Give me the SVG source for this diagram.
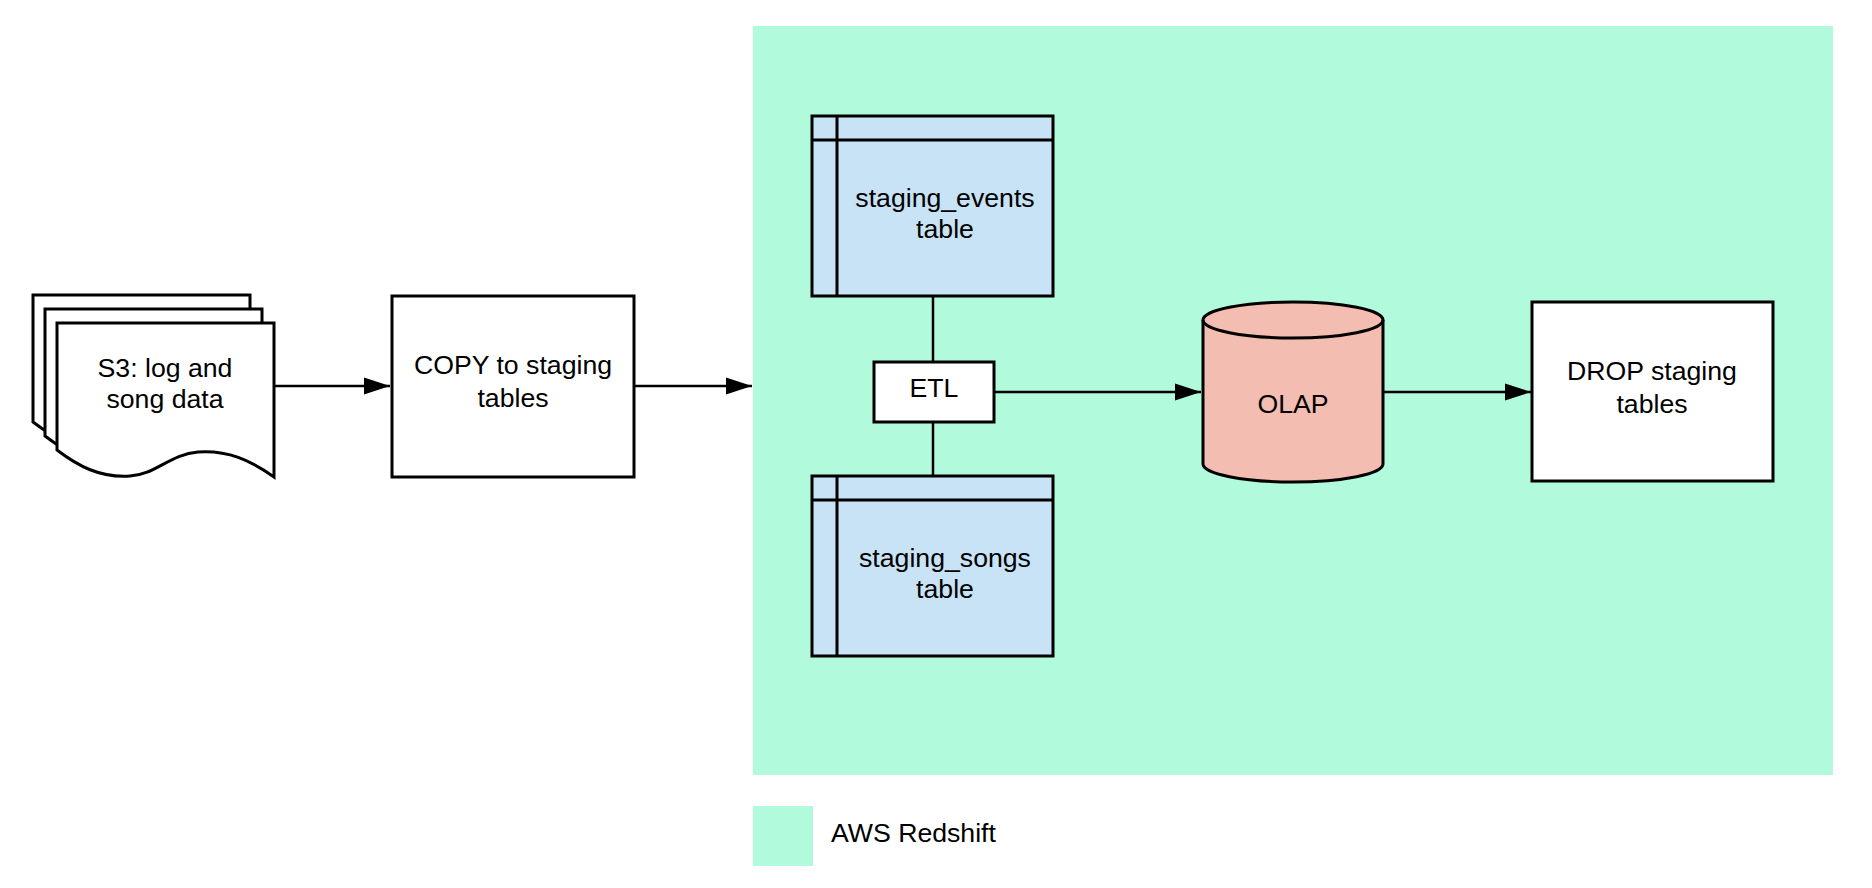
<svg xmlns="http://www.w3.org/2000/svg" width="1872" height="888" viewBox="0 0 1872 888">
<style>
.shape{stroke:#000;stroke-width:3;stroke-linejoin:miter}
.white{fill:#ffffff}
.tbl{fill:#c7e3f5}
.db{fill:#f4bdb1}
.lbl{font-family:"Liberation Sans",Arial,sans-serif;font-size:26.67px;fill:#000;text-anchor:middle}
.conn{stroke:#000;stroke-width:2.5;fill:none}
</style>
<defs>
<marker id="arrow" markerUnits="userSpaceOnUse" markerWidth="26" markerHeight="18" refX="26" refY="8.5" orient="auto" viewBox="0 0 26 17">
<path d="M0,0 L26,8.5 L0,17 Z" fill="#000"/>
</marker>
<path id="docshape" d="M57,323 H274 V477 C250,460 228,450 198,452 C170,454 155,475 130,476 C100,478 78,466 57,450 Z"/>
</defs>
<rect id="redshift-area" x="753" y="26" width="1080" height="749" fill="#b1fadb"/>
<g id="legend">
<rect x="753" y="806" width="60" height="60" fill="#b1fadb"/>
<text x="831" y="842" class="lbl" style="text-anchor:start">AWS Redshift</text>
</g>
<g id="connectors">
<path class="conn" d="M274,386 H390" marker-end="url(#arrow)"/>
<path class="conn" d="M634,386 H752" marker-end="url(#arrow)"/>
<path class="conn" d="M933,296 V362"/>
<path class="conn" d="M933,422 V476"/>
<path class="conn" d="M995,392 H1201" marker-end="url(#arrow)"/>
<path class="conn" d="M1383,392 H1531" marker-end="url(#arrow)"/>
</g>
<g id="s3-docs">
<use href="#docshape" class="shape white" transform="translate(-24,-28)"/>
<use href="#docshape" class="shape white" transform="translate(-12,-14)"/>
<use href="#docshape" class="shape white"/>
<text class="lbl" x="165" y="377">S3: log and</text>
<text class="lbl" x="165" y="408">song data</text>
</g>
<g id="copy">
<rect class="shape white" x="392" y="296" width="242" height="181"/>
<text class="lbl" x="513" y="374">COPY to staging</text>
<text class="lbl" x="513" y="407">tables</text>
</g>
<g id="staging-events">
<rect class="shape tbl" x="812" y="116" width="241" height="180"/>
<path class="shape" d="M812,140 H1053 M837,116 V296" fill="none"/>
<text class="lbl" x="945" y="207">staging_events</text>
<text class="lbl" x="945" y="238">table</text>
</g>
<g id="etl">
<rect class="shape white" x="874" y="362" width="120" height="60"/>
<text class="lbl" x="934" y="397">ETL</text>
</g>
<g id="staging-songs">
<rect class="shape tbl" x="812" y="476" width="241" height="180"/>
<path class="shape" d="M812,500 H1053 M837,476 V656" fill="none"/>
<text class="lbl" x="945" y="567">staging_songs</text>
<text class="lbl" x="945" y="598">table</text>
</g>
<g id="olap">
<path class="shape db" d="M1203,320 V464 A90,18 0 0 0 1383,464 V320 A90,18 0 0 0 1203,320 Z"/>
<path class="shape" fill="none" d="M1203,320 A90,18 0 0 0 1383,320"/>
<text class="lbl" x="1293" y="413">OLAP</text>
</g>
<g id="drop">
<rect class="shape white" x="1532" y="302" width="241" height="179"/>
<text class="lbl" x="1652" y="380">DROP staging</text>
<text class="lbl" x="1652" y="413">tables</text>
</g>
</svg>
